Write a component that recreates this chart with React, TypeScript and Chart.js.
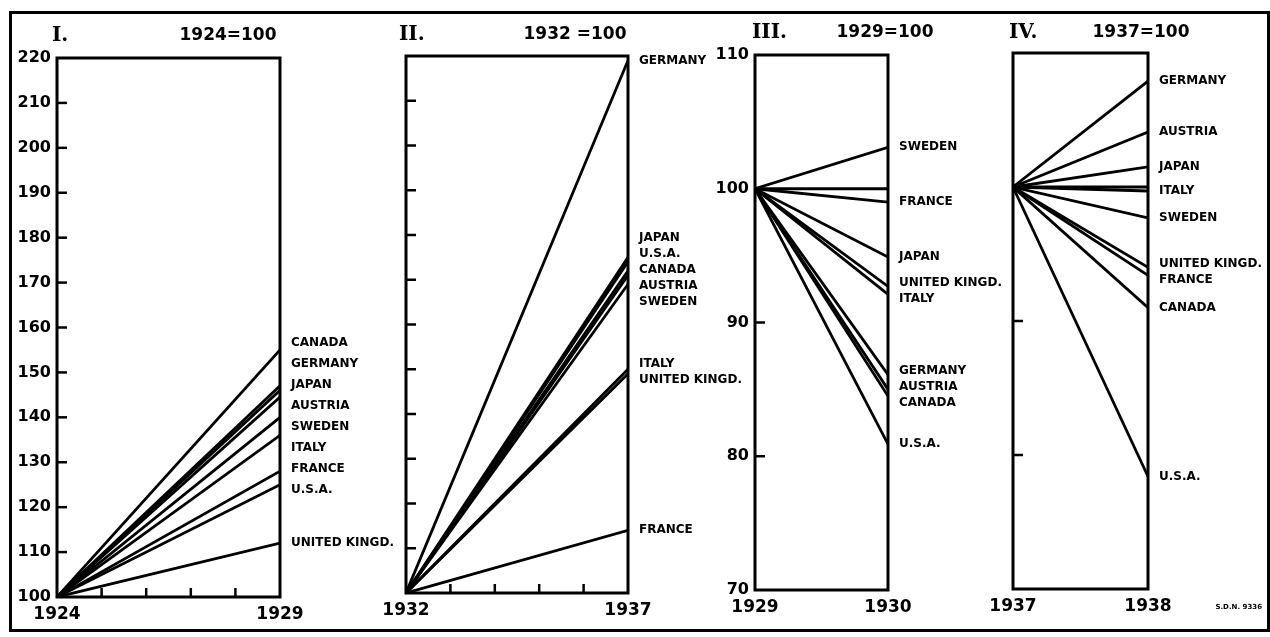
import React, { useEffect, useRef } from 'react';
import { Chart, registerables } from 'chart.js';

Chart.register(...registerables);

const W = 1270;
const H = 637;

// ---------- DATA ----------
const baseIndex = 100;

// Panel I : 1924 = 100
const p1Years = [1924, 1929];
const p1Countries = ['CANADA', 'GERMANY', 'JAPAN', 'AUSTRIA', 'SWEDEN', 'ITALY', 'FRANCE', 'U.S.A.', 'UNITED KINGD.'];
const p1Values1929 = [155, 147, 146, 144.5, 140, 136, 128, 125, 112];

// Panel II : 1932 = 100
const p2Years = [1932, 1937];
const p2Countries = ['GERMANY', 'JAPAN', 'U.S.A.', 'CANADA', 'AUSTRIA', 'SWEDEN', 'ITALY', 'UNITED KINGD.', 'FRANCE'];
const p2Values1937 = [219, 175, 174, 172, 171, 169, 150, 149, 114];

// Panel III : 1929 = 100
const p3Years = [1929, 1930];
const p3Countries = ['SWEDEN', 'FRANCE', 'JAPAN', 'UNITED KINGD.', 'ITALY', 'GERMANY', 'AUSTRIA', 'CANADA', 'U.S.A.'];
const p3Values1930 = [103.1, 99, 94.9, 92.7, 92.1, 86.1, 85.0, 84.5, 80.9];

// Panel IV : 1937 = 100
const p4Years = [1937, 1938];
const p4Countries = ['GERMANY', 'AUSTRIA', 'JAPAN', 'ITALY', 'SWEDEN', 'UNITED KINGD.', 'FRANCE', 'CANADA', 'U.S.A.'];
const p4Values1938 = [107.9, 104.1, 101.5, 99.7, 97.7, 94.0, 93.4, 91.0, 78.4];

const growthRange = [100, 220];
const slumpRange = [70, 110];
const romanTitles = ['I.', 'II.', 'III.', 'IV.'];
const baseTitles = ['1924=100', '1932 =100', '1929=100', '1937=100'];
const sourceNote = 'S.D.N. 9336';

// ---------- LAYOUT ----------
type Panel = {
  roman: string;
  base: string;
  years: number[];
  countries: string[];
  values: number[];
  yRange: number[];
  yLabels: boolean;
  refLine: boolean;
  xStep: number;
  area: { l: number; t: number; r: number; b: number };
  romanX: number;
  titleY: number;
  baseX: number;
  gap: number;
  note?: string;
};

const panels: Panel[] = [
  {
    roman: romanTitles[0], base: baseTitles[0], years: p1Years, countries: p1Countries, values: p1Values1929,
    yRange: growthRange, yLabels: true, refLine: false, xStep: 1,
    area: { l: 57, t: 58, r: 280, b: 597 }, romanX: 52, titleY: 36, baseX: 228, gap: 21,
  },
  {
    roman: romanTitles[1], base: baseTitles[1], years: p2Years, countries: p2Countries, values: p2Values1937,
    yRange: growthRange, yLabels: false, refLine: false, xStep: 1,
    area: { l: 406, t: 56, r: 628, b: 593 }, romanX: 399, titleY: 35, baseX: 575, gap: 16,
  },
  {
    roman: romanTitles[2], base: baseTitles[2], years: p3Years, countries: p3Countries, values: p3Values1930,
    yRange: slumpRange, yLabels: true, refLine: true, xStep: 1,
    area: { l: 755, t: 55, r: 888, b: 590 }, romanX: 752, titleY: 33, baseX: 885, gap: 16,
  },
  {
    roman: romanTitles[3], base: baseTitles[3], years: p4Years, countries: p4Countries, values: p4Values1938,
    yRange: slumpRange, yLabels: false, refLine: true, xStep: 1,
    area: { l: 1013, t: 53, r: 1148, b: 589 }, romanX: 1009, titleY: 33, baseX: 1141, gap: 16,
    note: sourceNote,
  },
];

const Y_AXIS_W = 45;
const X_AXIS_H = 30;
const INK = '#000';
const SANS = "'DejaVu Sans', 'Liberation Sans', sans-serif";
const SERIF = "'DejaVu Serif', 'Liberation Serif', serif";

// spread labels so they do not overlap (cluster merging)
function spread(ys: number[], gap: number): number[] {
  const order = ys.map((_, i) => i).sort((a, b) => ys[a] - ys[b]);
  const clusters: { ids: number[]; sum: number }[] = [];
  const top = (c: { ids: number[]; sum: number }) => c.sum / c.ids.length - ((c.ids.length - 1) * gap) / 2;
  for (const i of order) {
    clusters.push({ ids: [i], sum: ys[i] });
    while (clusters.length > 1) {
      const b = clusters[clusters.length - 1];
      const a = clusters[clusters.length - 2];
      const aBottom = top(a) + (a.ids.length - 1) * gap;
      if (top(b) - aBottom < gap) {
        clusters.pop();
        a.ids = a.ids.concat(b.ids);
        a.sum += b.sum;
      } else break;
    }
  }
  const out = new Array(ys.length).fill(0);
  for (const c of clusters) {
    const t = top(c);
    c.ids.forEach((id, k) => { out[id] = t + k * gap; });
  }
  return out;
}

function makePlugin(p: Panel) {
  return {
    id: 'panelDecor',
    afterDatasetsDraw(chart: any) {
      const { ctx, chartArea } = chart;
      const xs = chart.scales.x;
      const ys = chart.scales.y;
      ctx.save();
      ctx.strokeStyle = INK;
      ctx.fillStyle = INK;
      // frame
      ctx.lineWidth = 3;
      ctx.strokeRect(chartArea.left, chartArea.top, chartArea.right - chartArea.left, chartArea.bottom - chartArea.top);
      // inward ticks on the value axis
      ctx.lineWidth = 2.5;
      for (let v = p.yRange[0] + 10; v < p.yRange[1]; v += 10) {
        const py = ys.getPixelForValue(v);
        ctx.beginPath();
        ctx.moveTo(chartArea.left, py);
        ctx.lineTo(chartArea.left + 10, py);
        ctx.stroke();
      }
      // inward ticks on the year axis
      for (let yr = p.years[0] + p.xStep; yr < p.years[1]; yr += p.xStep) {
        const px = xs.getPixelForValue(yr);
        ctx.beginPath();
        ctx.moveTo(px, chartArea.bottom);
        ctx.lineTo(px, chartArea.bottom - 9);
        ctx.stroke();
      }
      // end labels
      const ends = p.values.map((v) => ys.getPixelForValue(v));
      const pos = spread(ends, p.gap);
      ctx.font = `bold 12px ${SANS}`;
      ctx.textAlign = 'left';
      ctx.textBaseline = 'middle';
      p.countries.forEach((c, i) => {
        ctx.fillText(c, chartArea.right + 11, pos[i]);
      });
      // titles
      ctx.font = `bold 20px ${SERIF}`;
      ctx.fillText(p.roman, p.romanX, p.titleY);
      ctx.font = `bold 17px ${SANS}`;
      ctx.textAlign = 'center';
      ctx.fillText(p.base, p.baseX, p.titleY);
      if (p.note) {
        ctx.font = `bold 7px ${SANS}`;
        ctx.textAlign = 'right';
        ctx.fillText(p.note, 1262, 607);
      }
      ctx.restore();
    },
  };
}

function buildConfig(p: Panel): any {
  const datasets: any[] = p.countries.map((c, i) => ({
    label: c,
    data: [
      { x: p.years[0], y: baseIndex },
      { x: p.years[1], y: p.values[i] },
    ],
    borderColor: INK,
    borderWidth: 2.8,
    pointRadius: 0,
    fill: false,
    tension: 0,
  }));
  if (p.refLine) {
    datasets.push({
      label: 'base',
      data: [
        { x: p.years[0], y: baseIndex },
        { x: p.years[1], y: baseIndex },
      ],
      borderColor: INK,
      borderWidth: 3.2,
      pointRadius: 0,
      fill: false,
      tension: 0,
    });
  }
  const yW = p.yLabels ? Y_AXIS_W : 0;
  return {
    type: 'line',
    data: { datasets },
    options: {
      responsive: false,
      animation: false,
      devicePixelRatio: 1,
      events: [],
      layout: {
        padding: {
          left: p.area.l - yW,
          top: p.area.t,
          right: W - p.area.r,
          bottom: H - p.area.b - X_AXIS_H,
        },
      },
      plugins: {
        legend: { display: false },
        tooltip: { enabled: false },
        title: { display: false },
      },
      scales: {
        x: {
          type: 'linear',
          min: p.years[0],
          max: p.years[1],
          afterFit: (s: any) => { s.height = X_AXIS_H; },
          grid: { display: false, drawTicks: false },
          border: { display: false },
          ticks: {
            stepSize: p.years[1] - p.years[0],
            autoSkip: false,
            maxRotation: 0,
            padding: 7,
            color: INK,
            font: { family: SANS, weight: 'bold', size: 17 },
            callback: (v: number) => String(v),
          },
        },
        y: {
          type: 'linear',
          min: p.yRange[0],
          max: p.yRange[1],
          afterFit: (s: any) => { s.width = yW; },
          grid: { display: false, drawTicks: false },
          border: { display: false },
          ticks: {
            display: p.yLabels,
            stepSize: 10,
            autoSkip: false,
            padding: 6,
            color: INK,
            font: { family: SANS, weight: 'bold', size: 16 },
          },
        },
      },
    },
    plugins: [makePlugin(p)],
  };
}

function PanelChart({ panel }: { panel: Panel }) {
  const ref = useRef<HTMLCanvasElement>(null);
  useEffect(() => {
    if (!ref.current) return;
    const chart = new Chart(ref.current, buildConfig(panel));
    return () => chart.destroy();
  }, [panel]);
  return (
    <canvas
      ref={ref}
      width={W}
      height={H}
      style={{ position: 'absolute', left: 0, top: 0, width: W, height: H, pointerEvents: 'none' }}
    />
  );
}

export default function App() {
  return (
    <div style={{ position: 'absolute', left: 0, top: 0, width: W, height: H, background: '#fff', overflow: 'hidden' }}>
      <div
        style={{
          position: 'absolute',
          left: 9,
          top: 11,
          width: 1261,
          height: 621,
          border: '3px solid #000',
          boxSizing: 'border-box',
        }}
      />
      {panels.map((p, i) => (
        <PanelChart key={i} panel={p} />
      ))}
    </div>
  );
}
